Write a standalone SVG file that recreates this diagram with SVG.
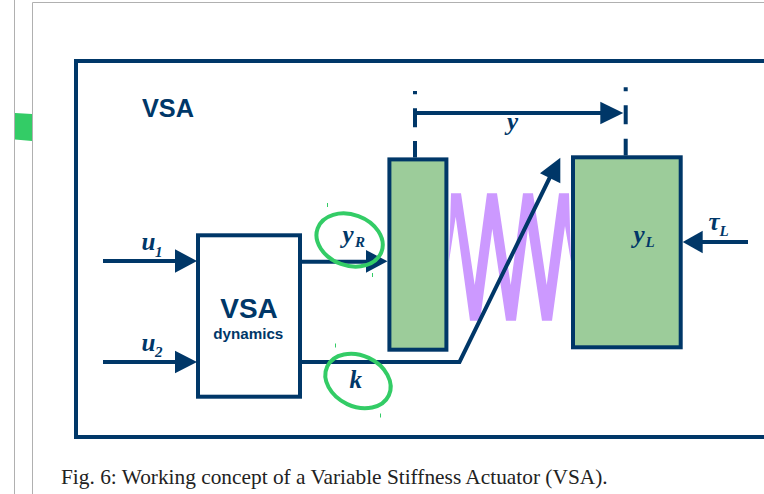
<svg xmlns="http://www.w3.org/2000/svg" width="764" height="494" viewBox="0 0 764 494">
<defs>
<style>
.ln{fill:none;stroke:#003768;stroke-width:4}
.hd{fill:#003768;stroke:none}
.blk{fill:#9ccc9a;stroke:#003768;stroke-width:4}
.ring{fill:none;stroke:#33cc66;stroke-width:4}
.tick{stroke:#33cc66;stroke-width:1;fill:none}
.edge{stroke:#b0b0b0;stroke-width:1;fill:none}
.sans{font-family:"Liberation Sans",Arial,sans-serif;font-weight:bold;fill:#003768}
.math{font-family:"Liberation Serif","Times New Roman",serif;font-weight:bold;font-style:italic;fill:#003768}
.m{font-size:25px}
.s{font-size:15px}
</style>
</defs>
<rect width="764" height="494" fill="#ffffff"/>
<g id="page">
<path class="edge" d="M14.5 0V494M32.5 494V2.5H764"/>
<path d="M15 113L32 114V141L15 139.5Z" fill="#33cc66"/>
</g>
<g id="frame">
<path d="M764 61H76V437H764" fill="none" stroke="#003768" stroke-width="4"/>
<text class="sans" x="142" y="117" font-size="25.3">VSA</text>
</g>
<g id="spring">
<path fill="#cc99ff" d="M449 261.7L451 193.3H461L474.7 285L487 193.3H497L510.7 285L523 193.3H533L546.7 285L559 193.3H569L571 261.7L565 226L552 320.7H542L528 228.7L516 320.7H506L492.3 228.7L480 320.7H470L455.7 216.7Z"/>
</g>
<g id="left-mass">
<rect class="blk" x="389.4" y="159.4" width="57" height="190.3"/>
</g>
<g id="load-mass">
<rect class="blk" x="573" y="157.3" width="107.7" height="190"/>
<text class="math m" x="633.5" y="243">y</text>
<text class="math s" x="645.5" y="247">L</text>
</g>
<g id="vsa-dynamics">
<rect x="198" y="235.3" width="102" height="161.4" fill="#ffffff" stroke="#003768" stroke-width="4"/>
<text class="sans" x="249" y="318" font-size="28" text-anchor="middle">VSA</text>
<text class="sans" x="248.3" y="339" font-size="15.2" text-anchor="middle">dynamics</text>
</g>
<g id="connectors">
<path class="ln" d="M103 261H176M103 362H176"/>
<path class="hd" d="M175 249.3L197 261L175 272.7ZM175 350.7L197 362L175 373.3Z"/>
<path class="ln" d="M300 261.7H368"/>
<path class="hd" d="M366 250L387.5 261.3L366 272.7Z"/>
<path class="ln" d="M300 362H459.5L552 173"/>
<path class="hd" d="M560.3 157.7L540 173.3L560.3 183.3Z"/>
<path class="ln" d="M415 91V94.3M415 108.3V127.3M415 141V157.5M625.7 87.3V91.3M625.7 105.3V124.3M625.7 138.7V155.5M415 113H602"/>
<path class="hd" d="M600.3 101.7L623.3 113L600.3 124.3Z"/>
<path class="ln" d="M748 242H701"/>
<path class="hd" d="M702.7 230.7L682.7 242L702.7 253.3Z"/>
</g>
<g id="labels">
<text class="math m" x="141.5" y="250">u</text>
<text class="math s" x="155" y="256.7">1</text>
<text class="math m" x="141.5" y="351">u</text>
<text class="math s" x="155" y="357.3">2</text>
<text class="math m" x="507" y="130">y</text>
<text class="math m" x="708.5" y="230">τ</text>
<text class="math s" x="719.5" y="236">L</text>
</g>
<g id="y-r-mark">
<ellipse class="ring" cx="349.6" cy="240" rx="34" ry="25.5" transform="rotate(20 349.6 240)"/>
<text class="math m" x="342.5" y="243">y</text>
<text class="math s" x="355" y="247">R</text>
<path class="tick" d="M327.5 203V207M372.5 273V277"/>
</g>
<g id="k-mark">
<ellipse class="ring" cx="358" cy="381" rx="34" ry="25.5" transform="rotate(25 358 381)"/>
<text class="math m" x="349.5" y="388">k</text>
<path class="tick" d="M335.5 343.5V347.5M380.5 413.5V417.5"/>
</g>
<text x="61" y="484" font-family="'Liberation Serif','Times New Roman',serif" font-size="21.35" fill="#222222">Fig. 6: Working concept of a Variable Stiffness Actuator (VSA).</text>
</svg>
